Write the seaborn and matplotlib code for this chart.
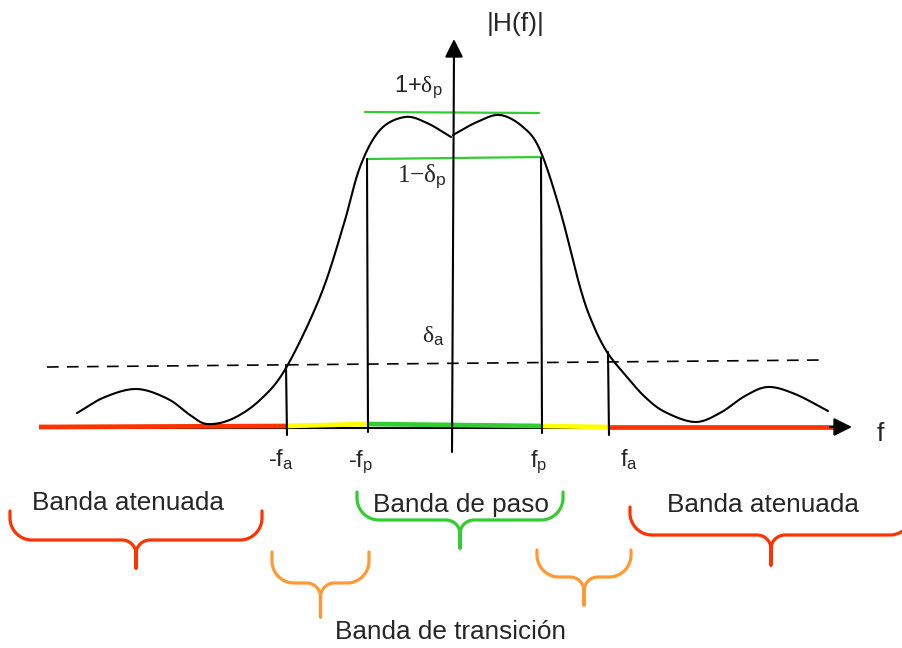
import numpy as np
import pandas as pd
import matplotlib
matplotlib.use("Agg")
import matplotlib.pyplot as plt
import seaborn as sns

sns.set_style("white")
plt.rcParams["font.family"] = ["Liberation Sans", "DejaVu Sans"]
plt.rcParams["mathtext.fontset"] = "custom"
plt.rcParams["mathtext.rm"] = "Liberation Sans"
plt.rcParams["mathtext.it"] = "Liberation Serif"
plt.rcParams["mathtext.sf"] = "Liberation Serif"

# |H(f)| sketch in drawing units (x to the right, y downward)
left_x = [77, 105, 137, 168, 190, 207, 232, 260, 286, 320, 343, 360, 380, 405, 427, 451]
left_y = [413, 397, 389, 399, 415, 424, 419, 400, 368, 297, 227, 167, 130, 117, 123, 137]
right_x = [453, 477, 500, 523, 540, 560, 580, 592, 607, 627, 645, 665, 695, 720, 745, 768, 795, 828]
right_y = [135, 122, 115, 127, 150, 210, 287, 322, 352, 377, 397, 412, 422, 413, 396, 387, 394, 411]

# band edges on the frequency axis: start, -fa, -fp, fp, fa, end
band_x = [39, 286, 367, 541, 609, 838]
band_y = [427, 426, 424, 426, 427, 427]
band_colors = ["#FF3300", "#FFFF00", "#33CC33", "#FFFF00", "#FF3300"]

# edge markers (-fa, -fp, fp, fa)
edge_x = [286, 367, 541, 608]
edge_top = [365, 159, 158, 352]
edge_bottom = [435, 432, 433, 435]
edge_labels = ["-$\\mathrm{f}_{\\mathrm{a}}$", "-$\\mathrm{f}_{\\mathrm{p}}$",
               "$\\mathrm{f}_{\\mathrm{p}}$", "$\\mathrm{f}_{\\mathrm{a}}$"]

# tolerance levels
ripple_hi = (365, 112, 539, 113)
ripple_lo = (367, 159, 541, 157)
stop_level = (47, 367, 822, 360)

# braces: left end, right end, top of ends, bar height, tip, colour
braces = [
    (10, 262, 511, 540, 568, "#FF3300"),
    (272, 369, 552, 583, 617, "#FF9933"),
    (357, 563, 492, 520, 548, "#33CC33"),
    (537, 631, 550, 577, 605, "#FF9933"),
    (630, 912, 507, 535, 565, "#FF3300"),
]
captions = ["Banda atenuada", "Banda de paso", "Banda atenuada", "Banda de transición"]


def catmull_rom(xs, ys, n=24):
    p = np.column_stack([xs, ys]).astype(float)
    p = np.vstack([2 * p[0] - p[1], p, 2 * p[-1] - p[-2]])
    out = []
    t = np.linspace(0, 1, n, endpoint=False)[:, None]
    for i in range(1, len(p) - 2):
        p0, p1, p2, p3 = p[i - 1], p[i], p[i + 1], p[i + 2]
        seg = 0.5 * (2 * p1 + (-p0 + p2) * t + (2 * p0 - 5 * p1 + 4 * p2 - p3) * t ** 2
                     + (-p0 + 3 * p1 - 3 * p2 + p3) * t ** 3)
        out.append(seg)
    out.append(p[-2][None])
    return np.vstack(out)


def brace_path(x0, x1, top, bar, tip, r_end=22, r_mid=14):
    xc = (x0 + x1) / 2.0
    th = np.linspace(0, np.pi / 2, 20)
    r_end = min(r_end, (bar - top), (xc - x0) / 2)
    r_mid = min(r_mid, (tip - bar) * 0.6, (xc - x0) / 2)
    # left end: down, then curve into the bar
    left_end_x = np.concatenate([[x0], x0 + r_end * (1 - np.cos(th))])
    left_end_y = np.concatenate([[top], bar - r_end + r_end * np.sin(th)])
    # bar curving down into the middle tip
    mid_lx = xc - r_mid + r_mid * np.sin(th)
    mid_ly = bar + r_mid * (1 - np.cos(th))
    xs = np.concatenate([left_end_x, mid_lx, [xc]])
    ys = np.concatenate([left_end_y, mid_ly, [tip]])
    right_xs = (2 * xc - xs)[::-1]
    right_ys = ys[::-1]
    return np.concatenate([xs, right_xs]), np.concatenate([ys, right_ys])


fig = plt.figure(figsize=(9.03, 6.48), dpi=100)
ax = fig.add_axes([0, 0, 1, 1])
ax.set_xlim(0, 903)
ax.set_ylim(648, 0)
ax.set_axis_off()

# frequency axis
ax.plot([48, 838], [428, 428], color="black", lw=1.5, zorder=2)
for i, c in enumerate(band_colors):
    ax.plot(band_x[i:i + 2], band_y[i:i + 2], color=c, lw=3.4,
            solid_capstyle="butt", zorder=3)
ax.annotate("", xy=(852, 427), xytext=(830, 427),
            arrowprops=dict(arrowstyle="-|>,head_length=1.1,head_width=0.55",
                            color="black", lw=1.5, shrinkA=0, shrinkB=0),
            zorder=5)

# magnitude axis
ax.plot([452, 454], [452, 50], color="black", lw=1.5, zorder=4)
ax.annotate("", xy=(454, 39), xytext=(454, 60),
            arrowprops=dict(arrowstyle="-|>,head_length=1.1,head_width=0.55",
                            color="black", lw=1.5, shrinkA=0, shrinkB=0),
            zorder=5)

# response curve
for xs, ys in [(left_x, left_y), (right_x, right_y)]:
    pts = catmull_rom(xs, ys)
    df = pd.DataFrame({"f": pts[:, 0], "H": pts[:, 1]})
    sns.lineplot(data=df, x="f", y="H", sort=False, estimator=None,
                 color="black", lw=1.5, ax=ax, zorder=4)

# tolerance lines
ax.plot(ripple_hi[0::2], ripple_hi[1::2], color="#33CC33", lw=1.6, zorder=3)
ax.plot(ripple_lo[0::2], ripple_lo[1::2], color="#33CC33", lw=1.6, zorder=3)
ax.plot(stop_level[0::2], stop_level[1::2], color="black", lw=1.2,
        dashes=(7, 5), zorder=3)

# band edge markers
for x, t, b in zip(edge_x, edge_top, edge_bottom):
    ax.plot([x, x + 1], [t, b], color="black", lw=1.5, zorder=4)

# braces
for x0, x1, top, bar, tip, col in braces:
    bx, by = brace_path(x0, x1, top, bar, tip)
    ax.plot(bx, by, color=col, lw=2.3, solid_capstyle="round",
            solid_joinstyle="round", zorder=3)

# text
ax.text(487, 31, "|H(f)|", fontsize=19, ha="left", va="baseline")
ax.text(877, 441, "f", fontsize=19, ha="left", va="baseline")
ax.text(394, 92, "1+$\\delta_{\\mathrm{p}}$", fontsize=17,
        ha="left", va="baseline")
ax.text(397, 182, "1\u2212$\\delta_{\\mathrm{p}}$", fontsize=18,
        family="Liberation Serif", ha="left", va="baseline")
ax.text(422, 343, "$\\delta_{\\mathrm{a}}$", fontsize=17, ha="left", va="baseline")
for x, lab in zip([268, 348, 530, 620], edge_labels):
    ax.text(x, 467, lab, fontsize=17, ha="left", va="baseline")

ax.text(32, 510, captions[0], fontsize=18.8, ha="left", va="baseline")
ax.text(373, 512, captions[1], fontsize=18.8, ha="left", va="baseline")
ax.text(667, 512, captions[2], fontsize=18.8, ha="left", va="baseline")
ax.text(335, 639, captions[3], fontsize=18.8, ha="left", va="baseline")

fig.savefig("out.png", dpi=100)
